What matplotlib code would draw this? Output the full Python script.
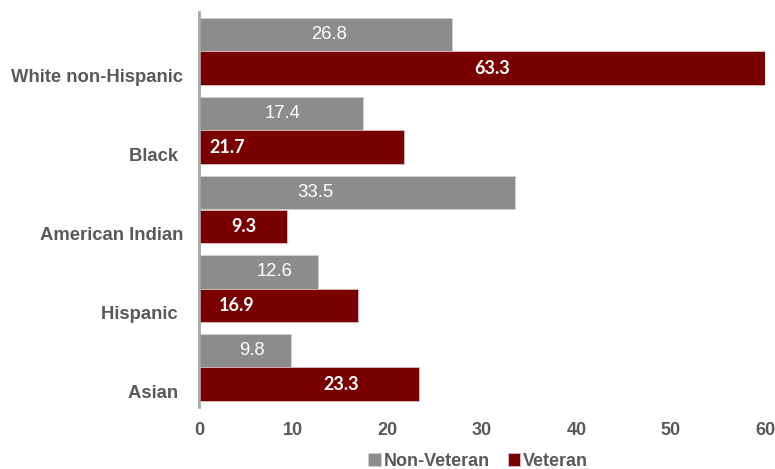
import numpy as np
import matplotlib
matplotlib.use('Agg')
import matplotlib.pyplot as plt

groups = ['White non-Hispanic', 'Black ', 'American Indian', 'Hispanic ', 'Asian ']
non_veteran = [26.8, 17.4, 33.5, 12.6, 9.8]
veteran = [63.3, 21.7, 9.3, 16.9, 23.3]
# where the data labels sit along the bar (placed by hand in the original)
nv_label_x = [13.8, 8.9, 12.3, 8.0, 5.6]
v_label_x = [31.1, 3.0, 4.7, 4.0, 15.1]

gray = '#8c8c8c'
red = '#7a0000'
txt = '#595959'

plt.rcParams['font.family'] = ['Liberation Sans', 'DejaVu Sans']

fig = plt.figure(figsize=(7.75, 4.69), dpi=100)
ax = fig.add_axes([199 / 775, 1 - 407 / 469, 566 / 775, 395 / 469])

y = np.arange(len(groups))
h = 0.418
ax.barh(y - h / 2, non_veteran, height=h, color=gray, edgecolor='#d0d0d0',
        linewidth=0.6, label='Non-Veteran')
ax.barh(y + h / 2, veteran, height=h, color=red, edgecolor='#d9c0c0',
        linewidth=0.6, label='Veteran')

for i in range(len(groups)):
    ax.text(nv_label_x[i], y[i] - h / 2, '%.1f' % non_veteran[i], color='white',
            fontsize=13.3, ha='center', va='center')
    ax.text(v_label_x[i], y[i] + h / 2 + 0.01, '%.1f' % veteran[i], color='white',
            fontsize=13, fontweight='bold', family=['Lato', 'DejaVu Sans'],
            ha='center', va='center')

ax.set_xlim(0, 60)
ax.set_ylim(len(groups) - 0.5, -0.5)
ax.set_xticks(np.arange(0, 61, 10))
ax.set_yticks(y + 0.3)
ax.set_yticklabels(groups)
ax.tick_params(axis='both', length=0, labelcolor=txt, labelsize=13)
ax.tick_params(axis='y', pad=11.5, labelsize=13.3)
ax.tick_params(axis='x', pad=11)
for lab in ax.get_xticklabels() + ax.get_yticklabels():
    lab.set_fontweight('bold')

for s in ['top', 'right', 'bottom']:
    ax.spines[s].set_visible(False)
ax.spines['left'].set_color('#a6a6a6')
ax.spines['left'].set_linewidth(2)

leg = fig.legend(loc='center', bbox_to_anchor=(478 / 775, 1 - 461 / 469), ncol=2,
                 frameon=False, handlelength=0.7, handleheight=0.7, handletextpad=0.15,
                 columnspacing=1.0, prop={'weight': 'bold', 'size': 13})
for t in leg.get_texts():
    t.set_color(txt)

fig.savefig('out.png', dpi=100)
